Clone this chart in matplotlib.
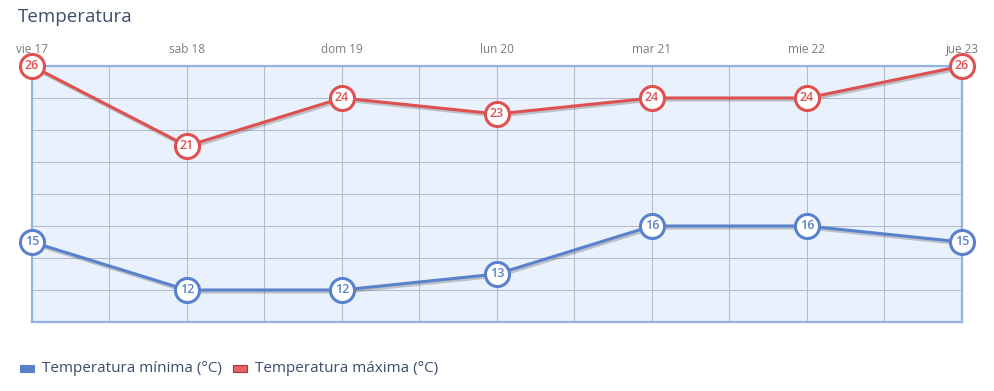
import matplotlib.pyplot as plt
import matplotlib.patheffects as pe
from matplotlib.patches import Rectangle

# ---------- data ----------
days = ["vie 17", "sab 18", "dom 19", "lun 20", "mar 21", "mie 22", "jue 23"]
t_min = [15, 12, 12, 13, 16, 16, 15]
t_max = [26, 21, 24, 23, 24, 24, 26]

BLUE = "#5a82cc"
RED = "#df5050"
TEXT = "#3d4d6b"

plt.rcParams["font.family"] = ["Open Sans", "DejaVu Sans"]

fig = plt.figure(figsize=(9.95, 3.91), dpi=100)
W, H = 995, 391
ax = fig.add_axes([32 / W, 1 - 322 / H, 930 / W, 256 / H])
ax.set_facecolor("#e9f1fc")
ax.set_xlim(0, len(days) - 1)
ax.set_ylim(10, 26)

# grid: every half day, every 2 degrees
for i in range(1, 2 * (len(days) - 1)):
    ax.axvline(i / 2, color="#b5bccb", lw=0.8, zorder=1)
for v in range(12, 26, 2):
    ax.axhline(v, color="#b5bccb", lw=0.8, zorder=1)

for s in ax.spines.values():
    s.set_color("#93b3e3")
    s.set_linewidth(1.6)

ax.set_yticks([])
ax.set_xticks(range(len(days)))
ax.set_xticklabels(days, fontsize=8.5, color="#7a7a7a")
ax.xaxis.tick_top()
ax.tick_params(axis="x", length=0, pad=7)

shadow = [pe.SimpleLineShadow(offset=(1, -1.5), shadow_color="#555555", alpha=0.3), pe.Normal()]

x = list(range(len(days)))
for vals, col in [(t_max, RED), (t_min, BLUE)]:
    ax.plot(x, vals, color=col, lw=2.2, zorder=3, path_effects=shadow, clip_on=False)
    ax.scatter(x, vals, s=300, facecolor="white", edgecolor=col, linewidth=2.2, zorder=4, clip_on=False)
    for xi, v in zip(x, vals):
        ax.text(xi, v, str(v), ha="center", va="center", fontsize=9, fontweight="semibold",
                color=col, zorder=5)

fig.text(18 / W, 1 - 17 / H, "Temperatura", fontsize=13.5, color=TEXT, va="center", ha="left")

# legend
lx, ly = 20, 368
fig.patches.append(Rectangle((lx / W, 1 - (ly + 4) / H), 14 / W, 7 / H, transform=fig.transFigure,
                             facecolor=BLUE, edgecolor=BLUE, lw=0.8))
fig.text(42 / W, 1 - ly / H, "Temperatura mínima (°C)", fontsize=11, color=TEXT, va="center")
fig.patches.append(Rectangle((233 / W, 1 - (ly + 4) / H), 14 / W, 7 / H, transform=fig.transFigure,
                             facecolor="#e86464", edgecolor="#a33a3a", lw=0.8))
fig.text(255 / W, 1 - ly / H, "Temperatura máxima (°C)", fontsize=11, color=TEXT, va="center")

fig.savefig("out.png", dpi=100, facecolor="white")
